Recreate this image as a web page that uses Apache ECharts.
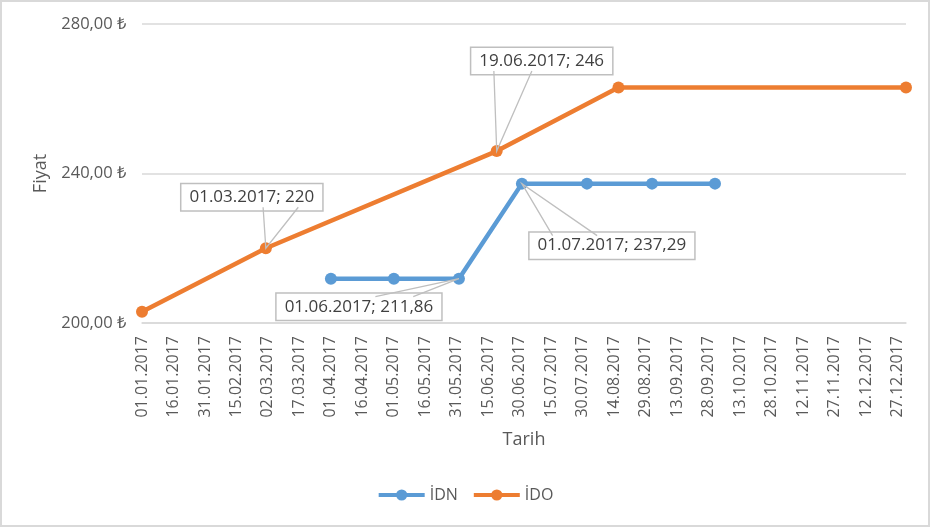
<!DOCTYPE html>
<html>
<head>
<meta charset="utf-8">
<script src="https://cdn.jsdelivr.net/npm/echarts@6/dist/echarts.min.js"></script>
<style>
html,body{margin:0;padding:0;background:#fff;}
#frame{position:absolute;left:0;top:0;width:926px;height:523px;border:2px solid #D9D9D9;}
#chart{position:absolute;left:0;top:0;width:930px;height:527px;}
</style>
</head>
<body>
<div id="frame"></div>
<div id="chart"></div>
<script>
// ---- data ----
const idnDates = ['01.04.2017','01.05.2017','01.06.2017','01.07.2017','01.08.2017','01.09.2017','01.10.2017'];
const idnValues = [211.86, 211.86, 211.86, 237.29, 237.29, 237.29, 237.29];
const idoDates = ['01.01.2017','01.03.2017','19.06.2017','16.08.2017','31.12.2017'];
const idoValues = [203, 220, 246, 263, 263];
const seriesNames = ['İDN', 'İDO'];
const axisStart = '01.01.2017';
const axisEnd = '31.12.2017';
const tickDays = 15;
const yMin = 200, yMax = 280, yStep = 40;
const idnLabeled = [2, 3];
const idoLabeled = [1, 2];

function toUTC(s){const p=s.split('.');return Date.UTC(+p[2],+p[1]-1,+p[0]);}
const DAY = 86400000;
const t0 = toUTC(axisStart);
function dayIdx(s){return Math.round((toUTC(s)-t0)/DAY);}
function dayStr(d){const dt=new Date(t0+d*DAY);const dd=String(dt.getUTCDate()).padStart(2,'0');const mm=String(dt.getUTCMonth()+1).padStart(2,'0');return dd+'.'+mm+'.'+dt.getUTCFullYear();}
function fmtNum(v){return (Math.round(v*100)/100).toString().replace('.',',');}
function labelText(day, v){return dayStr(day) + '; ' + fmtNum(v);}

const font = 'Open Sans';
const labelFontSize = 17;
const labelPad = [5, 8, 4, 8];
const labelStyle = {
  show: true, position: 'inside', align: 'center', verticalAlign: 'middle',
  fontFamily: font, fontSize: labelFontSize, color: '#404040',
  backgroundColor: '#fff', borderColor: '#BFBFBF', borderWidth: 1.5,
  padding: labelPad,
  formatter: p => labelText(p.value[0], p.value[1])
};
function build(dates, vals, labeled){
  return dates.map((d,i)=>{
    const o={value:[dayIdx(d), vals[i]]};
    if(labeled.indexOf(i)>=0) o.label=labelStyle;
    return o;
  });
}
// callout placement: [dx, dy, wedge base start fraction, wedge base end fraction]
const idnCallouts = {2:[-100,28,0.6,0.83], 3:[90,62,0.14,0.41]};
const idoCallouts = {1:[-14,-51,0.58,0.83], 2:[45,-90,0.16,0.43]};
function layoutFor(callouts){
  return p => {
    const c = callouts[p.dataIndex];
    return c ? {dx: c[0], dy: c[1]} : {};
  };
}
// wedge data: [day, value, dx, dy, f1, f2]
const wedgeData = [];
[[idnDates, idnValues, idnCallouts], [idoDates, idoValues, idoCallouts]].forEach(([ds, vs, cs]) => {
  Object.keys(cs).forEach(k => { const c = cs[k]; wedgeData.push([dayIdx(ds[k]), vs[k], c[0], c[1], c[2], c[3]]); });
});
const measureCtx = document.createElement('canvas').getContext('2d');
measureCtx.font = labelFontSize + 'px "' + font + '"';

const chart = echarts.init(document.getElementById('chart'));
chart.setOption({
  backgroundColor: 'transparent',
  animation: false,
  grid: {left: 142, right: 24, top: 24, bottom: 204},
  legend: {
    bottom: 19, left: 'center', itemWidth: 46, itemHeight: 14, itemGap: 14,
    textStyle: {fontFamily: font, fontSize: 16, color: '#595959'},
    lineStyle: {width: 4},
    data: seriesNames
  },
  xAxis: {
    type: 'value', min: 0, max: dayIdx(axisEnd), interval: tickDays,
    name: 'Tarih', nameLocation: 'middle', nameGap: 108,
    nameTextStyle: {fontFamily: font, fontSize: 18, color: '#595959'},
    axisLine: {show: true, lineStyle: {color: '#D9D9D9', width: 1.5}},
    axisTick: {show: false},
    splitLine: {show: false},
    axisLabel: {rotate: 90, margin: 13, fontFamily: font, fontSize: 16, color: '#595959',
      showMaxLabel: false, formatter: v => dayStr(v)}
  },
  yAxis: {
    type: 'value', min: yMin, max: yMax, interval: yStep,
    name: 'Fiyat', nameLocation: 'middle', nameGap: 91,
    nameTextStyle: {fontFamily: font, fontSize: 18, color: '#595959'},
    axisLine: {show: false}, axisTick: {show: false},
    splitLine: {lineStyle: {color: '#D9D9D9', width: 1.5}},
    axisLabel: {margin: 16, fontFamily: font, fontSize: 16.5, color: '#595959',
      formatter: v => v.toFixed(2).replace('.', ',') + ' ₺'}
  },
  series: [
    {
      type: 'custom', name: 'callouts', data: wedgeData, z: 4, silent: true,
      encode: {x: 0, y: 1},
      renderItem: (params, api) => {
        const pt = api.coord([api.value(0), api.value(1)]);
        const dx = api.value(2), dy = api.value(3), f1 = api.value(4), f2 = api.value(5);
        const w = measureCtx.measureText(labelText(api.value(0), api.value(1))).width + labelPad[1] + labelPad[3];
        const h = labelFontSize + labelPad[0] + labelPad[2];
        const cx = pt[0] + dx, cy = pt[1] + dy;
        const left = cx - w/2;
        const by = dy < 0 ? cy + h/2 - 3 : cy - h/2 + 3;
        return {type: 'polyline', shape: {points: [[left + w*f1, by], pt, [left + w*f2, by]]},
          style: {stroke: '#BFBFBF', lineWidth: 1.3, fill: null}, z2: 0};
      }
    },
    {
      name: seriesNames[0], type: 'line', data: build(idnDates, idnValues, idnLabeled),
      color: '#5B9BD5', symbol: 'circle', symbolSize: 12,
      lineStyle: {width: 4.5, color: '#5B9BD5'}, itemStyle: {color: '#5B9BD5'},
      label: {show: false},
      labelLayout: layoutFor(idnCallouts),
      z: 3
    },
    {
      name: seriesNames[1], type: 'line', data: build(idoDates, idoValues, idoLabeled),
      color: '#ED7D31', symbol: 'circle', symbolSize: 12,
      lineStyle: {width: 4.5, color: '#ED7D31'}, itemStyle: {color: '#ED7D31'},
      label: {show: false},
      labelLayout: layoutFor(idoCallouts),
      z: 2
    }
  ]
});
</script>
</body>
</html>
